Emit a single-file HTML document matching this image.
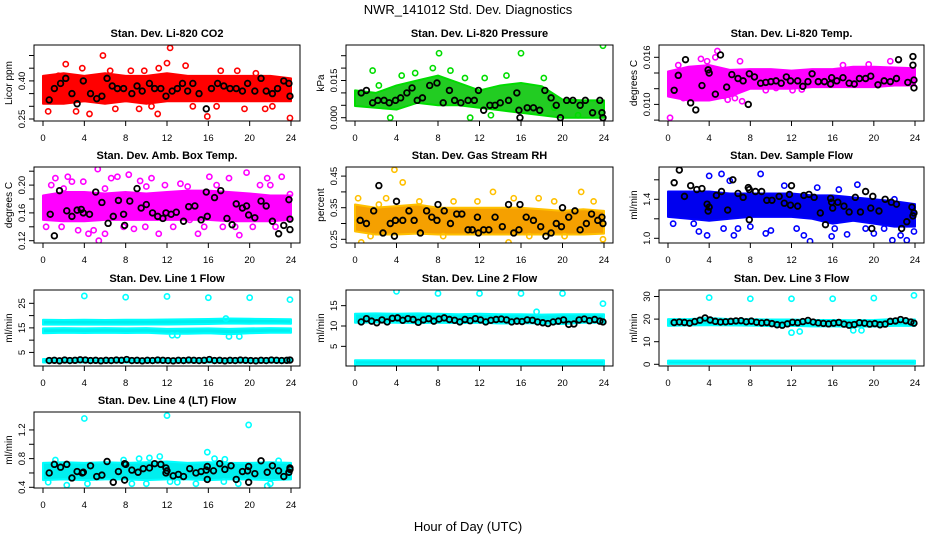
<!DOCTYPE html>
<html><head><meta charset="utf-8"><style>
html,body{margin:0;padding:0;background:#fff;}
svg text{font-family:"Liberation Sans",sans-serif;}
</style></head><body>
<svg id="chart" width="936" height="540" viewBox="0 0 936 540" xmlns="http://www.w3.org/2000/svg">
<text x="468" y="14" font-size="13" text-anchor="middle">NWR_141012  Std. Dev. Diagnostics</text>
<text x="468" y="531" font-size="13" text-anchor="middle">Hour of Day (UTC)</text>
</svg>
<script>
// ---------- data ----------
const xTicks=[0,4,8,12,16,20,24];
const bandHours=[0,2,4,6,8,10,12,14,16,18,20,22,24];

// CO2
const co2Lo=[0.31,0.31,0.32,0.31,0.32,0.31,0.32,0.32,0.32,0.32,0.32,0.32,0.32];
const co2Hi=[0.42,0.43,0.42,0.43,0.42,0.42,0.43,0.42,0.42,0.42,0.42,0.42,0.41];
const co2OutH=[2.2,5.8,11.2,12.3,13.8,17.2,0.5,3.2,4.5,7.0,9.3,11.1,15.9,19.5,22.2,23.9,1.5,8.5,14.5,20.6,6.5,3.8,10.5,18.8,12.0,16.8,21.5,9.8];
const co2OutV=[0.466,0.50,0.45,0.53,0.46,0.44,0.28,0.28,0.27,0.29,0.29,0.27,0.26,0.29,0.30,0.254,0.42,0.44,0.30,0.43,0.44,0.45,0.30,0.44,0.47,0.30,0.29,0.44];
const co2BlkH=[0.6,1.1,1.7,2.2,2.8,3.3,3.9,4.6,5.2,5.7,6.2,6.7,7.2,7.8,8.6,9.1,9.6,10.3,10.8,11.4,11.9,12.5,13.0,13.5,14.0,14.5,15.1,15.8,16.3,16.9,17.5,18.1,18.7,19.3,19.8,20.5,21.1,21.6,22.2,22.7,23.3,23.8,23.9];
const co2BlkV=[0.325,0.37,0.39,0.41,0.35,0.31,0.40,0.35,0.33,0.34,0.41,0.38,0.37,0.37,0.35,0.38,0.36,0.39,0.37,0.37,0.34,0.36,0.37,0.39,0.36,0.39,0.35,0.29,0.37,0.39,0.38,0.37,0.37,0.36,0.39,0.36,0.41,0.36,0.35,0.37,0.40,0.39,0.34];

// Pressure
const prLo=[0.0047,0.004,0.0033,0.006,0.005,0.005,0.004,0.003,0.002,0.001,0.0,0.0,0.0];
const prHi=[0.011,0.010,0.013,0.015,0.017,0.014,0.011,0.013,0.014,0.0127,0.0073,0.007,0.007];
const prOutH=[1.7,8.1,16.0,23.9,9.2,7.5,3.4,11.1,13.1,12.5,14.6,18.2,4.5,2.3,10.6,19.2,21.5,5.8];
const prOutV=[0.019,0.026,0.026,0.029,0.019,0.020,0.0,0.0,0.001,0.016,0.017,0.016,0.017,0.013,0.016,0.004,0.001,0.018];
const prBlkH=[0.6,1.1,1.7,2.2,2.8,3.3,3.9,4.4,5.0,5.5,6.0,6.5,7.2,7.9,8.5,9.1,9.6,10.2,10.9,11.5,11.9,12.4,13.0,13.5,14.0,14.8,15.6,15.8,15.9,16.6,17.2,17.8,18.3,18.9,19.4,19.8,20.4,21.0,21.7,22.2,22.9,23.6,23.9,23.8];
const prBlkV=[0.010,0.011,0.006,0.007,0.007,0.006,0.007,0.008,0.010,0.012,0.007,0.008,0.013,0.014,0.006,0.011,0.007,0.006,0.007,0.007,0.011,0.003,0.005,0.005,0.006,0.007,0.010,0.003,0.0,0.004,0.004,0.003,0.011,0.008,0.005,0.0,0.007,0.007,0.005,0.007,0.002,0.007,0.0,0.002];

// Li-820 Temp
const ltLo=[0.0110,0.0105,0.0105,0.0110,0.0120,0.0120,0.0120,0.0122,0.0122,0.0122,0.0122,0.0124,0.0124];
const ltHi=[0.0142,0.0148,0.0150,0.0144,0.0145,0.0145,0.0143,0.0145,0.0145,0.0148,0.0148,0.0147,0.0146];
const ltOutH=[0.2,1.5,2.5,3.2,4.0,4.8,4.6,5.4,6.5,7.2,7.0,9.5,12.1,13.0,17.0,19.5,21.6,1.0,2.0,3.8,5.8,10.5];
const ltOutV=[0.0083,0.0108,0.0113,0.0158,0.0109,0.0168,0.0160,0.0111,0.0108,0.0104,0.0155,0.0118,0.0118,0.0119,0.0150,0.0151,0.0155,0.0150,0.0140,0.0155,0.0106,0.0121];
const ltBlkH=[0.6,1.0,1.7,2.2,2.7,3.3,3.9,4.0,4.6,5.1,5.7,6.2,6.8,7.3,7.9,7.8,8.4,9.0,9.5,10.0,10.5,11.0,11.5,11.9,12.6,13.1,13.6,14.0,14.6,15.2,15.8,15.9,16.4,17.0,17.6,18.1,18.6,19.2,19.7,20.4,21.0,21.6,22.2,22.4,23.3,23.8,23.8,23.9,23.9];
const ltBlkV=[0.0118,0.0137,0.0157,0.0102,0.0093,0.0124,0.0144,0.0140,0.0113,0.0163,0.0122,0.0138,0.0133,0.0130,0.0139,0.0100,0.0135,0.0127,0.0128,0.0129,0.0130,0.0127,0.0135,0.0130,0.0130,0.0123,0.0129,0.0139,0.0129,0.0129,0.0126,0.0134,0.0130,0.0134,0.0127,0.0126,0.0133,0.0133,0.0136,0.0125,0.0130,0.0129,0.0133,0.0157,0.0128,0.0161,0.0150,0.0131,0.0121];

// Amb Box Temp
const abLo=[0.150,0.148,0.148,0.150,0.150,0.150,0.150,0.150,0.150,0.148,0.148,0.148,0.150];
const abHi=[0.185,0.190,0.190,0.188,0.190,0.188,0.190,0.192,0.192,0.190,0.188,0.185,0.185];
const abOutH=[0.3,0.8,1.2,1.8,2.4,2.8,3.4,3.9,4.4,4.9,5.3,5.4,6.0,6.6,7.2,7.8,8.3,8.8,9.4,9.9,10.5,11.2,11.8,12.6,13.3,14.2,15.0,15.6,16.1,16.8,17.4,18.0,18.6,19.0,19.7,20.3,21.0,21.7,22.5,23.1,23.9,22.0,2.0,6.0,10.0,14.0];
const abOutV=[0.140,0.200,0.210,0.140,0.212,0.205,0.135,0.205,0.130,0.135,0.223,0.120,0.130,0.210,0.212,0.140,0.215,0.137,0.206,0.140,0.210,0.130,0.200,0.140,0.202,0.150,0.130,0.140,0.212,0.200,0.140,0.210,0.140,0.128,0.218,0.140,0.200,0.210,0.140,0.212,0.187,0.200,0.195,0.195,0.198,0.198];
const abBlkH=[0.7,1.1,1.6,2.3,2.8,3.3,3.7,3.9,4.5,5.1,5.7,6.3,6.8,7.3,7.8,7.9,8.4,9.1,9.5,10.0,10.6,11.1,11.6,11.9,12.4,12.9,13.6,14.1,14.7,15.3,15.8,15.9,16.6,17.2,17.8,18.3,18.7,19.3,19.7,19.9,20.5,21.1,21.6,22.2,22.8,23.3,23.9,23.9,23.8];
const abBlkV=[0.158,0.127,0.192,0.163,0.155,0.164,0.165,0.160,0.158,0.190,0.175,0.145,0.155,0.178,0.158,0.142,0.177,0.195,0.167,0.172,0.160,0.155,0.152,0.160,0.158,0.161,0.148,0.169,0.170,0.150,0.190,0.155,0.182,0.192,0.152,0.143,0.173,0.167,0.170,0.157,0.153,0.177,0.170,0.148,0.130,0.142,0.151,0.136,0.179];

// Gas Stream RH
const rhLo=[0.275,0.265,0.265,0.268,0.265,0.265,0.265,0.265,0.265,0.265,0.265,0.265,0.268];
const rhHi=[0.36,0.35,0.355,0.36,0.35,0.35,0.35,0.35,0.35,0.345,0.34,0.345,0.34];
const rhOutH=[0.3,0.6,1.5,2.3,3.8,4.6,8.5,11.8,13.3,14.8,15.3,17.7,20.2,21.8,23.0,23.9,19.2,6.2,9.5,16.8,3.0];
const rhOutV=[0.38,0.24,0.26,0.36,0.47,0.43,0.26,0.37,0.40,0.24,0.38,0.38,0.26,0.40,0.37,0.25,0.37,0.37,0.37,0.26,0.38];
const rhBlkH=[0.5,1.1,1.8,2.3,2.7,3.4,3.8,3.9,4.0,4.6,5.2,5.7,6.3,6.9,7.4,7.9,8.0,8.6,9.2,9.8,10.3,10.9,11.3,11.8,11.9,12.4,12.9,13.5,14.2,14.8,15.3,15.8,15.9,16.5,17.2,17.9,18.4,18.9,19.4,19.9,20.0,20.6,21.2,21.7,22.3,22.8,23.4,23.8,23.9];
const rhBlkV=[0.31,0.30,0.34,0.42,0.27,0.30,0.26,0.31,0.37,0.31,0.34,0.31,0.27,0.34,0.32,0.31,0.36,0.34,0.30,0.33,0.33,0.28,0.28,0.32,0.27,0.28,0.28,0.32,0.29,0.36,0.27,0.28,0.36,0.32,0.31,0.29,0.26,0.27,0.30,0.29,0.35,0.32,0.34,0.28,0.30,0.33,0.31,0.32,0.30];

// Sample Flow
const sfLo=[1.22,1.20,1.18,1.20,1.22,1.22,1.22,1.20,1.15,1.18,1.15,1.12,1.12];
const sfHi=[1.48,1.48,1.48,1.46,1.46,1.46,1.46,1.44,1.44,1.42,1.40,1.38,1.35];
const sfOutH=[0.5,2.5,3.0,3.8,4.0,5.2,5.4,6.0,6.4,6.8,8.0,9.0,9.5,11.3,12.5,13.2,13.8,14.5,15.9,16.6,17.4,18.4,19.2,20.0,21.0,21.8,22.6,23.2,23.9,22.0,10.0,16.2];
const sfOutV=[1.15,1.15,1.07,1.03,1.64,1.66,1.10,1.59,1.03,1.10,1.12,1.66,1.05,1.54,1.10,1.03,0.97,1.52,1.02,1.50,1.04,1.55,1.10,1.05,1.10,0.98,1.03,0.98,1.07,1.40,1.08,1.10];
const sfBlkH=[0.6,1.1,1.6,2.2,2.8,3.3,3.8,3.9,4.0,4.7,5.2,5.8,6.3,6.8,7.3,7.8,7.9,7.9,8.5,9.1,9.6,10.1,10.8,11.3,11.8,11.9,12.0,12.6,13.2,13.7,14.2,14.8,15.3,15.8,15.9,16.0,16.5,17.1,17.6,18.2,18.7,19.2,19.7,19.8,19.9,20.5,21.1,21.7,22.2,22.7,23.2,23.7,23.8,23.9];
const sfBlkV=[1.57,1.70,1.43,1.54,1.50,1.51,1.35,1.28,1.32,1.44,1.48,1.29,1.60,1.46,1.42,1.52,1.50,1.19,1.48,1.48,1.39,1.39,1.43,1.36,1.45,1.34,1.54,1.33,1.44,1.45,1.42,1.26,1.14,1.41,1.37,1.31,1.37,1.33,1.27,1.42,1.27,1.48,1.31,1.10,1.43,1.28,1.40,1.37,1.35,1.10,1.17,1.32,1.23,1.26];

// Line flows (shared black-point hours for lines 1-3)
const lineBlkH=[0.6,1.1,1.6,2.1,2.6,3.1,3.6,4.1,4.6,5.1,5.6,6.1,6.6,7.1,7.6,8.1,8.6,9.1,9.6,10.1,10.6,11.1,11.6,12.1,12.6,13.1,13.6,14.1,14.6,15.1,15.6,16.1,16.6,17.1,17.6,18.1,18.6,19.1,19.6,20.1,20.6,21.1,21.6,22.1,22.6,23.1,23.6,23.9];
const l1UpLo=[16.3,16.4,16.3,16.4,16.3,16.4,16.4,16.5,16.6,16.8,16.7,16.8,16.7];
const l1UpHi=[18.3,18.2,18.3,18.2,18.3,18.3,18.4,18.5,18.6,18.8,18.7,18.6,18.5];
const l1MidLo=[12.8,13.0,12.9,13.0,12.9,13.0,12.6,12.6,12.8,12.4,12.8,13.0,13.0];
const l1MidHi=[14.8,14.9,14.8,14.9,14.8,14.9,14.6,14.7,14.8,14.6,14.8,14.9,14.8];
const l1BotLo=[0.9,0.9,0.9,0.9,0.9,0.9,0.9,0.9,0.9,0.9,0.9,0.9,0.9];
const l1BotHi=[2.3,2.3,2.3,2.3,2.3,2.3,2.3,2.3,2.3,2.3,2.3,2.3,2.3];
const l1OutH=[4,8,12,16,20,23.9,12.5,13,18,19,17.7];
const l1OutV=[28,27.5,27.8,27.3,27.3,26.5,12,12,11.5,11.5,18.8];
const l1BlkV=[1.7,1.8,1.6,1.9,1.7,1.8,2.0,1.9,1.7,1.8,1.6,1.8,1.7,1.9,1.8,2.1,1.7,1.8,1.6,1.8,1.7,1.9,1.8,1.7,1.6,1.8,1.7,1.9,1.8,1.7,1.8,2.1,1.7,1.8,1.6,1.8,1.7,1.9,1.8,1.7,1.6,1.8,1.7,1.9,1.8,1.7,1.8,1.9];

const l2UpLo=[10.8,10.9,10.8,10.7,10.8,10.7,10.8,10.6,10.7,10.6,10.5,10.8,10.8];
const l2UpHi=[13.0,13.1,13.0,13.1,13.0,12.9,13.0,12.9,12.9,12.8,12.9,12.9,12.9];
const l2BotLo=[0.5,0.5,0.5,0.5,0.5,0.5,0.5,0.5,0.5,0.5,0.5,0.5,0.5];
const l2BotHi=[1.6,1.6,1.6,1.6,1.6,1.6,1.6,1.6,1.6,1.6,1.6,1.6,1.6];
const l2OutH=[4,8,12,16,20,23.9,17.5];
const l2OutV=[18.5,18,18,18,18,15.5,13.5];
const l2BlkV=[11.0,11.8,11.2,10.8,11.5,11.0,11.9,12.0,11.4,11.8,11.6,10.9,11.5,11.8,11.2,11.7,12.0,11.6,11.4,11.0,11.6,11.3,11.8,11.5,11.0,11.4,11.6,11.7,11.5,11.0,11.2,11.1,11.5,11.4,11.0,10.8,10.6,11.0,11.2,11.5,10.4,10.5,11.5,11.7,11.3,11.6,11.2,11.0];

const l3UpLo=[17.0,17.2,17.3,17.2,17.1,16.9,17.0,16.8,16.8,16.6,16.7,17.0,17.0];
const l3UpHi=[20.0,20.0,20.5,20.0,20.0,19.8,19.8,19.6,19.6,19.5,19.6,20.0,19.8];
const l3BotLo=[0.2,0.2,0.2,0.2,0.2,0.2,0.2,0.2,0.2,0.2,0.2,0.2,0.2];
const l3BotHi=[1.6,1.6,1.6,1.6,1.6,1.6,1.6,1.6,1.6,1.6,1.6,1.6,1.6];
const l3OutH=[4,8,12,16,20,23.9,12,12.8,18,18.8];
const l3OutV=[29.5,29,29,29,29.3,30.5,14,14.5,15,15];
const l3BlkV=[18.5,18.7,18.5,18.2,18.9,19.5,20.5,19.6,19.0,18.7,18.8,19.0,19.2,19.3,18.8,19.1,18.6,18.3,18.5,18.0,17.5,17.3,17.9,18.6,18.4,18.9,19.4,18.7,18.3,18.1,17.9,18.2,18.5,17.8,17.3,17.6,18.4,18.2,17.8,18.0,17.5,17.8,19.0,19.2,19.8,19.3,18.7,18.2];

const l4Lo=[0.50,0.51,0.50,0.51,0.51,0.50,0.51,0.51,0.50,0.51,0.51,0.50,0.51];
const l4Hi=[0.74,0.75,0.74,0.75,0.74,0.75,0.76,0.74,0.75,0.74,0.74,0.75,0.74];
const l4OutH=[4,12,19.9,2.3,21.7,15.9,11.3,0.5,4.3,8.6,10,12.3,13,14.8,17.5,18.9,22,1.2,7.8,9.3,10.3,16.6,17.6,22.8];
const l4OutV=[1.36,1.40,1.27,0.43,0.42,0.89,0.83,0.47,0.45,0.45,0.45,0.48,0.47,0.45,0.48,0.45,0.45,0.78,0.78,0.80,0.81,0.80,0.79,0.77];
const l4BlkH=[0.6,1.1,1.7,2.3,2.8,3.3,3.8,3.9,4.6,5.2,5.7,6.2,6.8,7.3,7.9,8.0,7.9,8.6,9.2,9.7,10.3,10.8,11.4,11.9,11.9,12.0,12.6,13.1,13.6,14.2,14.8,15.3,15.8,15.9,15.9,16.5,17.1,17.6,18.2,18.7,19.3,19.8,19.9,19.9,20.5,21.1,21.7,22.2,22.8,23.3,23.8,23.9,23.9];
const l4BlkV=[0.60,0.72,0.68,0.72,0.53,0.62,0.60,0.61,0.70,0.55,0.57,0.76,0.47,0.62,0.73,0.72,0.50,0.64,0.61,0.66,0.67,0.73,0.72,0.60,0.67,0.63,0.56,0.58,0.55,0.66,0.60,0.62,0.64,0.51,0.69,0.63,0.73,0.65,0.70,0.51,0.62,0.63,0.69,0.47,0.59,0.77,0.61,0.70,0.63,0.55,0.61,0.65,0.67];

// ---------- layout (positions, not data) ----------
const colX=[[43,291],[355,604],[668,915]];
const rowTop=[45,167,290,412];
const boxH=76;
const panels=[
 {name:'co2',title:'Stan. Dev. Li-820 CO2',ylab:'Licor ppm',c:0,r:0,ref:0.25,refPx:119,ppu:254,ticks:[0.25,0.30,0.35,0.40,0.45,0.50],labels:['0.25','0.40'],color:'#ff0000',fill:'#ff0000',bands:[[co2Lo,co2Hi]],oh:co2OutH,ov:co2OutV,bh:co2BlkH,bv:co2BlkV},
 {name:'pressure',title:'Stan. Dev. Li-820 Pressure',ylab:'kPa',c:1,r:0,ref:0,refPx:117.7,ppu:2480,ticks:[0,0.005,0.010,0.015,0.020,0.025],labels:['0.000','0.015'],color:'#00dd00',fill:'#22cc22',bands:[[prLo,prHi]],oh:prOutH,ov:prOutV,bh:prBlkH,bv:prBlkV},
 {name:'li820-temp',title:'Stan. Dev. Li-820 Temp.',ylab:'degrees C',c:2,r:0,ref:0.010,refPx:104.4,ppu:7850,ticks:[0.008,0.010,0.012,0.014,0.016],labels:['0.010','0.016'],color:'#ff00ff',fill:'#ff00ff',bands:[[ltLo,ltHi]],oh:ltOutH,ov:ltOutV,bh:ltBlkH,bv:ltBlkV},
 {name:'amb-box-temp',title:'Stan. Dev. Amb. Box Temp.',ylab:'degrees C',c:0,r:1,ref:0.12,refPx:240.7,ppu:695,ticks:[0.12,0.14,0.16,0.18,0.20,0.22],labels:['0.12','0.16','0.20'],color:'#ff00ff',fill:'#ff00ff',bands:[[abLo,abHi]],oh:abOutH,ov:abOutV,bh:abBlkH,bv:abBlkV},
 {name:'gas-stream-rh',title:'Stan. Dev. Gas Stream RH',ylab:'percent',c:1,r:1,ref:0.25,refPx:239.3,ppu:316,ticks:[0.25,0.30,0.35,0.40,0.45],labels:['0.25','0.35','0.45'],color:'#ffc000',fill:'#f5a000',bands:[[rhLo,rhHi]],oh:rhOutH,ov:rhOutV,bh:rhBlkH,bv:rhBlkV},
 {name:'sample-flow',title:'Stan. Dev. Sample Flow',ylab:'ml/min',c:2,r:1,ref:1.0,refPx:238.3,ppu:97.5,ticks:[1.0,1.2,1.4,1.6],labels:['1.0','1.4'],color:'#0000ff',fill:'#0000ee',bands:[[sfLo,sfHi]],oh:sfOutH,ov:sfOutV,bh:sfBlkH,bv:sfBlkV},
 {name:'line1-flow',title:'Stan. Dev. Line 1 Flow',ylab:'ml/min',c:0,r:2,ref:0,refPx:364.7,ppu:2.455,ticks:[5,10,15,20,25],labels:['5','15','25'],color:'#00ffff',fill:'#00eeee',bands:[[l1UpLo,l1UpHi],[l1MidLo,l1MidHi],[l1BotLo,l1BotHi]],oh:l1OutH,ov:l1OutV,bh:lineBlkH,bv:l1BlkV},
 {name:'line2-flow',title:'Stan. Dev. Line 2 Flow',ylab:'ml/min',c:1,r:2,ref:0,refPx:366.7,ppu:4.07,ticks:[5,10,15],labels:['5','10','15'],color:'#00ffff',fill:'#00eeee',bands:[[l2UpLo,l2UpHi],[l2BotLo,l2BotHi]],oh:l2OutH,ov:l2OutV,bh:lineBlkH,bv:l2BlkV},
 {name:'line3-flow',title:'Stan. Dev. Line 3 Flow',ylab:'ml/min',c:2,r:2,ref:0,refPx:364.3,ppu:2.26,ticks:[0,10,20,30],labels:['0','10','20','30'],color:'#00ffff',fill:'#00eeee',bands:[[l3UpLo,l3UpHi],[l3BotLo,l3BotHi]],oh:l3OutH,ov:l3OutV,bh:lineBlkH,bv:l3BlkV},
 {name:'line4-flow',title:'Stan. Dev. Line 4 (LT) Flow',ylab:'ml/min',c:0,r:3,ref:0.4,refPx:487.3,ppu:71.7,ticks:[0.4,0.6,0.8,1.0,1.2],labels:['0.4','0.8','1.2'],color:'#00ffff',fill:'#00eeee',bands:[[l4Lo,l4Hi]],oh:l4OutH,ov:l4OutV,bh:l4BlkH,bv:l4BlkV}
];

const NS='http://www.w3.org/2000/svg';
const svg=document.getElementById('chart');
function mk(tag,attrs,parent){const e=document.createElementNS(NS,tag);for(const k in attrs)e.setAttribute(k,attrs[k]);(parent||svg).appendChild(e);return e;}
function fmt(v,labels){return labels.find(l=>Math.abs(parseFloat(l)-v)<1e-9);}

panels.forEach((p,pi)=>{
  const x0=colX[p.c][0],x1=colX[p.c][1];
  const xs=h=>x0+(x1-x0)*h/24;
  const ys=v=>p.refPx-(v-p.ref)*p.ppu;
  const top=rowTop[p.r],bot=top+boxH,left=x0-9,right=x1+9;
  const g=mk('g',{});
  
  
  const cp=mk('clipPath',{id:'clip'+pi},g);
  mk('rect',{x:left,y:top,width:right-left,height:boxH},cp);
  const plot=mk('g',{'clip-path':'url(#clip'+pi+')'},g);
  
  
  p.bands.forEach((b,bi)=>{
    let pts=[];
    bandHours.forEach((h,i)=>pts.push(xs(h)+','+ys(b[1][i])));
    for(let i=bandHours.length-1;i>=0;i--)pts.push(xs(bandHours[i])+','+ys(b[0][i]));
    const poly=mk('polygon',{points:pts.join(' '),fill:p.fill,stroke:p.color,'stroke-width':2,'stroke-linejoin':'round'},plot);
    
    
  });
  p.oh.forEach((h,i)=>{
    const c=mk('circle',{cx:xs(h),cy:ys(p.ov[i]),r:2.6,fill:'none',stroke:p.color,'stroke-width':1.6},plot);
    
    
  });
  p.bh.forEach((h,i)=>{
    const c=mk('circle',{cx:xs(h),cy:ys(p.bv[i]),r:2.8,fill:'none',stroke:'#000','stroke-width':1.8},plot);
    
    
  });
  const box=mk('rect',{x:left,y:top,width:right-left,height:boxH,fill:'none',stroke:'#000','stroke-width':1},g);
  
  
  const xa=mk('g',{},g);
  
  
  xTicks.forEach(t=>{
    mk('line',{x1:xs(t),x2:xs(t),y1:bot,y2:bot+5,stroke:'#000'},xa);
    const tx=mk('text',{x:xs(t),y:bot+20,'font-size':9.5,'text-anchor':'middle'},xa);
    tx.textContent=String(t);
  });
  const ya=mk('g',{},g);
  
  
  p.ticks.forEach(t=>{
    const y=ys(t);
    mk('line',{x1:left,x2:left-5,y1:y,y2:y,stroke:'#000'},ya);
    const lab=fmt(t,p.labels);
    if(lab){
      const tx=mk('text',{x:left-9,y:y,'font-size':9.5,'text-anchor':'middle',transform:'rotate(-90 '+(left-9)+' '+y+')'},ya);
      tx.textContent=lab;
    }
  });
  const yl=mk('text',{x:left-22,y:top+boxH/2,'font-size':10,'text-anchor':'middle',transform:'rotate(-90 '+(left-22)+' '+(top+boxH/2)+')'},g);
  
  
  yl.textContent=p.ylab;
  const ti=mk('text',{x:(left+right)/2,y:top-8,'font-size':11,'font-weight':'bold','text-anchor':'middle'},g);
  
  
  ti.textContent=p.title;
});
</script>
</body></html>
